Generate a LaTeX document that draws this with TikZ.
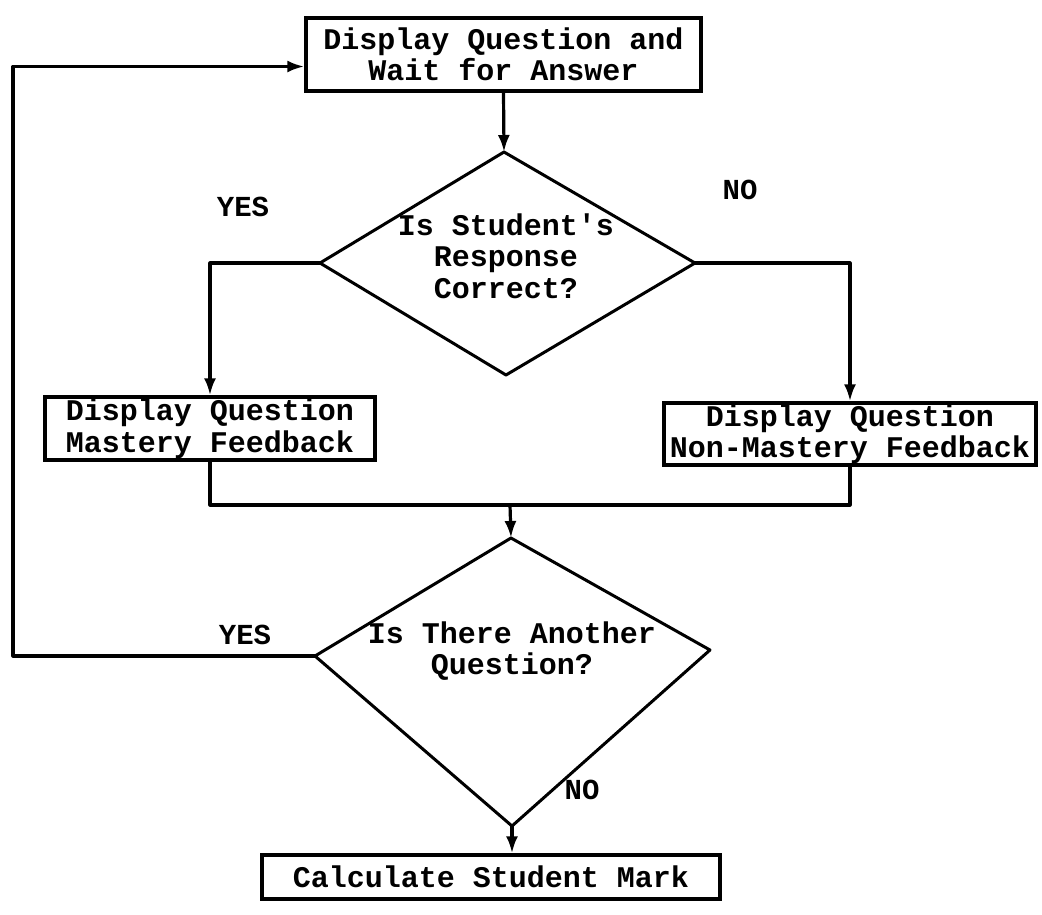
\documentclass[tikz,border=0pt]{standalone}
\usepackage{fontspec}
\setmonofont{Liberation Mono}
\usetikzlibrary{arrows.meta}
\begin{document}
\begin{tikzpicture}[x=1pt,y=-1pt,
  wire/.style={line width=3.2pt, line cap=round, line join=round},
  arr/.style={wire, -{Latex[length=17pt,width=12pt]}},
  txt/.style={font=\ttfamily\bfseries\fontsize{30}{31.5}\selectfont, align=center, inner sep=0pt},
  box/.style={txt, draw, line width=3.4pt},
  label/.style={font=\ttfamily\bfseries\fontsize{29}{30}\selectfont, inner sep=0pt}
]
\useasboundingbox[fill=white] (0,0) rectangle (1042,914);

% process boxes
\node[box, minimum width=395pt, minimum height=73pt] (ask) at (503.5,54.5)
  {Display Question and\\Wait for Answer};
\node[box, minimum width=330pt, minimum height=63pt] (good) at (210,428.5)
  {Display Question\\Mastery Feedback};
\node[box, minimum width=372pt, minimum height=62pt] (bad) at (850,434)
  {Display Question\\Non-Mastery Feedback};
\node[box, minimum width=458pt, minimum height=44pt] (mark) at (491,877)
  {Calculate Student Mark};

% first decision
\coordinate (d1t) at (504,152);
\coordinate (d1l) at (320,263);
\coordinate (d1r) at (695,263);
\coordinate (d1b) at (506,375);
\draw[wire, line width=3pt] (d1t) -- (d1r) -- (d1b) -- (d1l) -- cycle;
\node[txt] (q1) at (506,256) {Is Student's\\Response\\Correct?};

% second decision
\coordinate (d2t) at (511,538);
\coordinate (d2l) at (315,656);
\coordinate (d2r) at (710,650);
\coordinate (d2b) at (512,826);
\draw[wire, line width=3pt] (d2t) -- (d2r) -- (d2b) -- (d2l) -- cycle;
\node[txt] (q2) at (512,651) {Is There Another\\Question?};

% branch labels
\node[label] (yes1) at (243,207) {YES};
\node[label] (no1) at (740,190) {NO};
\node[label] (yes2) at (245,635) {YES};
\node[label] (no2) at (582,790) {NO};

% connectors
\coordinate (join) at (510,505);
\coordinate (loop) at (13,656);
\draw[arr] (ask.south) -- (d1t);
\draw[arr] (d1l) -| (good.north);
\draw[arr] (d1r) -| (bad.north);
\draw[wire] (good.south) |- (join) -| (bad.south);
\draw[arr] (join) -- (d2t);
\draw[arr] (d2l) -- (loop) |- ([yshift=-12pt]ask.west);
\draw[arr] (d2b) -- (d2b |- mark.north);
\end{tikzpicture}
\end{document}
